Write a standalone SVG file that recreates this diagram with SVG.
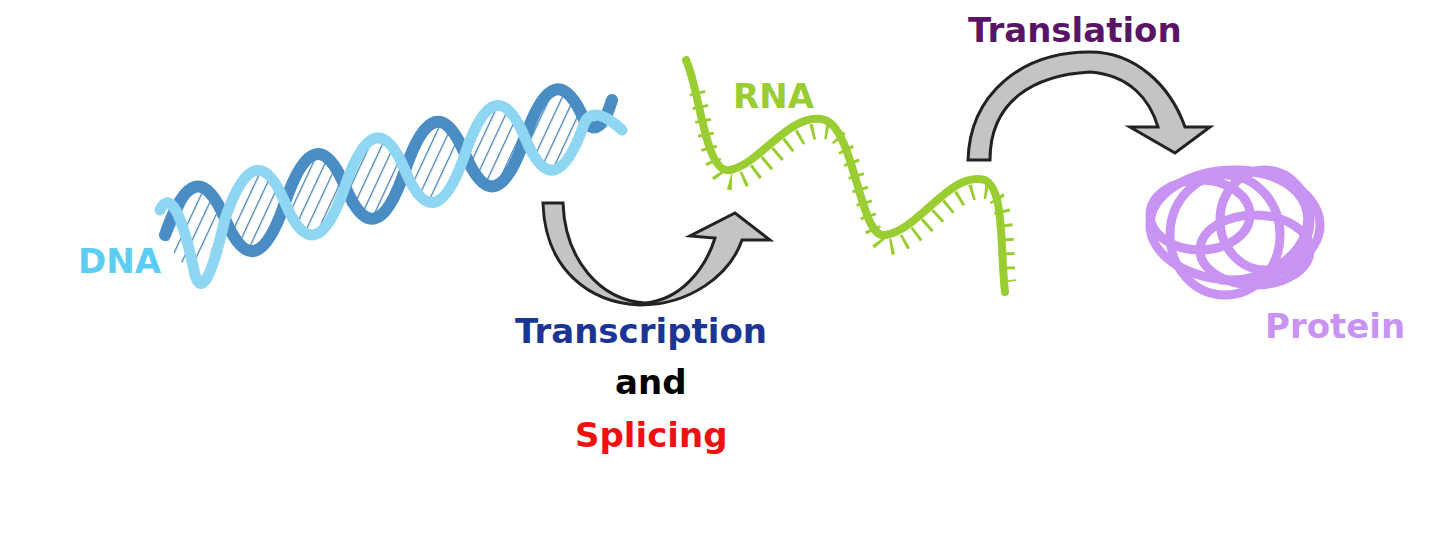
<svg xmlns="http://www.w3.org/2000/svg" width="1440" height="547" viewBox="0 0 1440 547">
<style>
text{font-family:"DejaVu Sans","Liberation Sans",sans-serif;font-weight:bold}
.arrow{fill:#c4c4c4;stroke:#222;stroke-width:3;stroke-linejoin:miter}
.prot{fill:none;stroke:#c993f3;stroke-width:9}
</style>
<defs>
<pattern id="hatch" width="11" height="11" patternUnits="userSpaceOnUse" patternTransform="rotate(25)">
<line x1="0" y1="0" x2="0" y2="11" stroke="#3f7fb8" stroke-width="2.5"/>
</pattern>
</defs>
<rect width="1440" height="547" fill="#fff"/>
<g id="dna">
<path d="M165,235 Q195,306.9 225,218.8 Q255,130.7 285,202.6 Q315,274.5 345,186.4 Q375,98.3 405,170.2 Q435,242.1 465,154 Q495,65.9 525,137.8 Q555,209.7 585,121.6 Q555,49.7 525,137.8 Q495,226 465,154 Q435,82.1 405,170.2 Q375,258.3 345,186.4 Q315,114.5 285,202.6 Q255,290.7 225,218.8 Q195,146.9 165,235 Z" fill="url(#hatch)" stroke="none"/>
<path d="M165,235 Q195,146.9 225,218.8 Q255,290.7 285,202.6 Q315,114.5 345,186.4 Q375,258.3 405,170.2 Q435,82.1 465,154 Q495,226 525,137.8 Q555,49.7 585,121.6 Q600,140 612,100" fill="none" stroke="#4a8cc4" stroke-width="12" stroke-linecap="round"/>
<path d="M160,210 Q175,180 195,275 Q205,306.9 225,218.8 Q255,130.7 285,202.6 Q315,274.5 345,186.4 Q375,98.3 405,170.2 Q435,242.1 465,154 Q495,65.9 525,137.8 Q555,209.7 585,121.6 Q595,105 622,130" fill="none" stroke="#8fd6f2" stroke-width="11" stroke-linecap="round"/>
<text x="78" y="273" font-size="34" fill="#5ccdf3">DNA</text>
</g>
<g id="rna">
<path transform="translate(5,12)" d="M692,80 C700,110 705,175 730,170 C760,165 790,110 825,120 C855,130 860,240 885,235 C920,230 950,170 985,180 C1005,190 1000,250 1003,270" fill="none" stroke="#9acd32" stroke-width="16" stroke-dasharray="3 11"/>
<path d="M686,60 C700,90 705,175 730,170 C760,165 790,110 825,120 C855,130 860,240 885,235 C920,230 950,170 985,180 C1005,190 1000,250 1005,292" fill="none" stroke="#9acd32" stroke-width="8" stroke-linecap="round"/>
<text x="733" y="108" font-size="34" fill="#9acd32">RNA</text>
</g>
<g id="protein">
<ellipse cx="1235" cy="225" rx="85" ry="55" class="prot"/>
<ellipse cx="1225" cy="235" rx="55" ry="60" class="prot"/>
<ellipse cx="1265" cy="220" rx="45" ry="50" class="prot"/>
<ellipse cx="1200" cy="215" rx="50" ry="35" class="prot"/>
<ellipse cx="1255" cy="250" rx="55" ry="35" class="prot"/>
<path d="M1185,185 C1230,160 1290,170 1305,205 C1320,245 1270,285 1220,280" class="prot"/>
<text x="1265" y="338" font-size="34" fill="#c993f3">Protein</text>
</g>
<g id="connectors">
<path class="arrow" d="M543,203 L563,203 C565,260 600,300 645,303 C680,300 705,270 715,238 L690,236 L735,213 L770,240 L742,240 C730,275 690,305 640,305 C590,303 545,270 543,203 Z"/>
<path class="arrow" d="M968,160 L990,160 C990,100 1035,75 1090,72 C1130,75 1150,100 1158,127 L1130,127 L1175,153 L1210,127 L1185,127 C1170,85 1135,52 1090,52 C1020,52 970,95 968,160 Z"/>
</g>
<g id="labels">
<text x="515" y="343" font-size="34" fill="#1b3596">Transcription</text>
<text x="615" y="394" font-size="34" fill="#000">and</text>
<text x="575" y="447" font-size="34" fill="#f01010">Splicing</text>
<text x="968" y="42" font-size="34" fill="#5a1466">Translation</text>
</g>
</svg>
